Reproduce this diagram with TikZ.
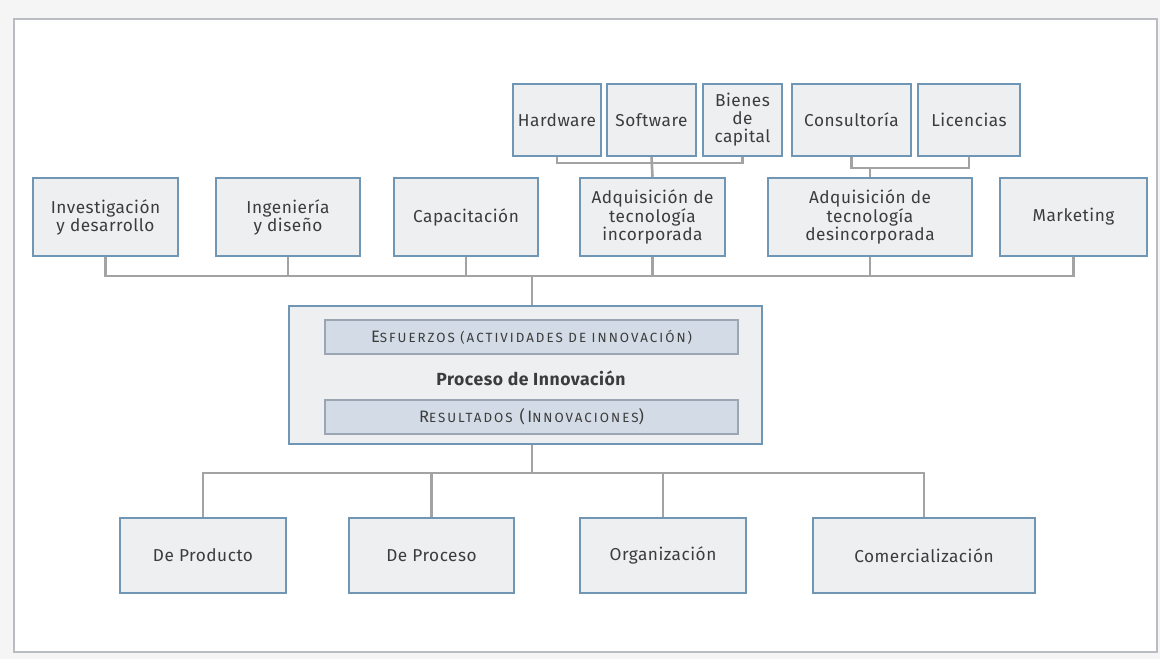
\documentclass[tikz,border=0pt]{standalone}
\usepackage{fontspec}
\setmainfont{Fira Sans}[LetterSpace=3]
\newfontfamily\capsfont{Fira Sans}[LetterSpace=15]
\usepackage{tikz}
\usetikzlibrary{positioning}

\definecolor{boxfill}{HTML}{EDEFF1}
\definecolor{boxline}{HTML}{6F97B5}
\definecolor{barfill}{HTML}{D3DCE6}
\definecolor{barline}{HTML}{9AA6B2}
\definecolor{wire}{HTML}{A3A3A3}
\definecolor{frame}{HTML}{B9BDC2}
\definecolor{txt}{HTML}{3C3C3C}

\tikzset{
  box/.style={rectangle, draw=boxline, line width=1.4pt, fill=boxfill, text=txt,
    align=center, inner sep=1pt, font=\fontsize{9.8}{10.3}\selectfont},
  bar/.style={rectangle, draw=barline, line width=0.9pt, fill=barfill, text=txt,
    minimum width=8.26cm, minimum height=0.68cm, font=\capsfont\fontsize{9.4}{10.3}\selectfont},
  wire/.style={draw=wire, line width=1.5pt}
}

% small caps by hand
\newcommand{\sm}[1]{{\fontsize{7.6}{8}\selectfont #1}}

\begin{document}
\begin{tikzpicture}[x=0.2mm, y=-0.2mm]

\fill[black!4] (0,0) rectangle (1160,659);
\useasboundingbox (0,0) rectangle (1160,659);
\draw[draw=frame, line width=1.2pt, fill=white] (14,19) rectangle (1157,652);

% sources of technology
\node[box, minimum width=1.76cm, minimum height=1.44cm] (hw) at (557,120) {Hardware};
\node[box, minimum width=1.78cm, minimum height=1.44cm] (sw) at (651.5,120) {Software};
\node[box, minimum width=1.58cm, minimum height=1.44cm] (bc) at (742.5,120) {Bienes\\de\\capital};
\node[box, minimum width=2.38cm, minimum height=1.44cm] (cons) at (851.5,120) {Consultoría};
\node[box, minimum width=2.04cm, minimum height=1.44cm] (lic) at (969,120) {Licencias};

% activities
\node[box, minimum width=2.90cm, minimum height=1.56cm] (inv) at (105.5,217) {Investigación\\y desarrollo};
\node[box, minimum width=2.88cm, minimum height=1.56cm] (ing) at (288,217) {Ingeniería\\y diseño};
\node[box, minimum width=2.88cm, minimum height=1.56cm] (cap) at (466,217) {Capacitación};
\node[box, minimum width=2.90cm, minimum height=1.56cm] (inc) at (652.5,217) {Adquisición de\\tecnología\\incorporada};
\node[box, minimum width=4.08cm, minimum height=1.56cm] (des) at (870,217) {Adquisición de\\tecnología\\desincorporada};
\node[box, minimum width=2.94cm, minimum height=1.56cm] (mkt) at (1073.5,217) {Marketing};

% process
\node[box, minimum width=9.46cm, minimum height=2.76cm] (proc) at (525.5,375) {};
\node[bar] (esf) at (531.5,337) {E\sm{SFUERZOS (ACTIVIDADES DE INNOVACIÓN)}};
\node[text=txt, font=\fontsize{10}{10.3}\selectfont\bfseries] (pin) at (531,378) {Proceso de Innovación};
\node[bar] (res) at (531.5,417) {R\sm{ESULTADOS} (I\sm{NNOVACIONES})};

% results
\node[box, minimum width=3.32cm, minimum height=1.50cm] (prod) at (203,555.5) {De Producto};
\node[box, minimum width=3.30cm, minimum height=1.50cm] (pro) at (431.5,555.5) {De Proceso};
\node[box, minimum width=3.32cm, minimum height=1.50cm] (org) at (663,555.5) {Organización};
\node[box, minimum width=4.44cm, minimum height=1.50cm] (com) at (924,555.5) {Comercialización};

\coordinate (busC) at (651.5,163);
\coordinate (busD) at (870,168);
\coordinate (busA) at (532,276);
\coordinate (busB) at (532,473);

\draw[wire] (hw.south) |- (busC);
\draw[wire] (bc.south) |- (busC);
\draw[wire] (sw.south) -- (inc.north);

\draw[wire] (cons.south) |- (busD);
\draw[wire] (lic.south) |- (busD);
\draw[wire] (busD) -- (des.north);

\foreach \n in {inv, ing, cap, inc, des, mkt}
  \draw[wire] (\n.south) |- (busA);
\draw[wire] (busA) -- (busA |- proc.north);

\draw[wire] (busB |- proc.south) -- (busB);
\foreach \n in {prod, pro, org, com}
  \draw[wire] (busB) -| (\n.north);

\end{tikzpicture}
\end{document}
